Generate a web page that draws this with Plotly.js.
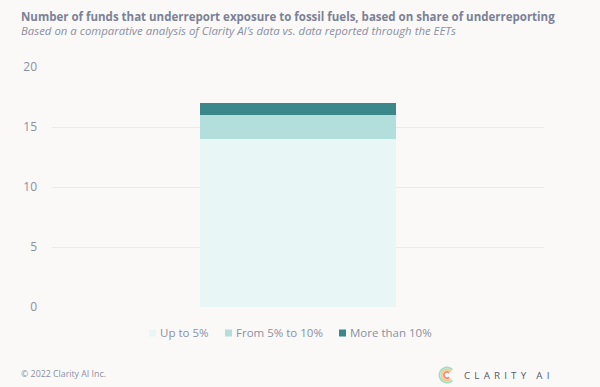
<!DOCTYPE html>
<html>
<head>
<meta charset="utf-8">
<script src="https://cdn.plot.ly/plotly-3.0.1.min.js"></script>
<style>
html,body{margin:0;padding:0;background:#faf9f7;}
#chart{width:600px;height:387px;}
</style>
</head>
<body>
<div id="chart"></div>
<script>
const categories = ["Funds"];
const seriesNames = ["Up to 5%", "From 5% to 10%", "More than 10%"];
const upTo5 = [14];
const from5to10 = [2];
const moreThan10 = [1];
const yTicks = [0, 5, 10, 15, 20];

const colors = ["#e8f6f6", "#b2dfdc", "#3b888a"];
const values = [upTo5, from5to10, moreThan10];

const traces = values.map((v, i) => ({
  type: "bar",
  x: categories,
  y: v,
  name: seriesNames[i],
  marker: {color: colors[i], line: {width: 0}},
  hoverinfo: "skip"
}));

// pixel -> paper helpers
const L = 52, R = 544, T = 67, B = 307;
const px = x => (x - L) / (R - L);
const py = y => (B - y) / (B - T);
function arc(cx, cy, r, a0, a1) {
  const n = 24; let d = "";
  for (let k = 0; k <= n; k++) {
    const a = (a0 + (a1 - a0) * k / n) * Math.PI / 180;
    const X = px(cx + r * Math.cos(a)), Y = py(cy - r * Math.sin(a));
    d += (k === 0 ? "M" : "L") + X.toFixed(4) + "," + Y.toFixed(4);
  }
  return d;
}
const lc = [447, 375];
const logoShapes = [
  {r: 7.5, c: "#9fdcc4"},
  {r: 5.3, c: "#f7c97c"},
  {r: 3.1, c: "#ee8a8a"}
].map(s => ({
  type: "path", xref: "paper", yref: "paper",
  path: arc(lc[0], lc[1], s.r, 45, 315),
  line: {color: s.c, width: 1.8}
}));

// manual legend (positions of the legend items, in pixels)
const legendX = [149, 225, 339];
const legendY = 333;
const legendShapes = seriesNames.map((n, i) => ({
  type: "rect", xref: "paper", yref: "paper",
  x0: px(legendX[i]), x1: px(legendX[i] + 7),
  y0: py(legendY + 3.5), y1: py(legendY - 3.5),
  fillcolor: colors[i], line: {width: 0}
}));
const legendAnn = seriesNames.map((n, i) => ({
  xref: "paper", yref: "paper", x: px(legendX[i] + 9), y: py(legendY - 1),
  xanchor: "left", yanchor: "middle", text: n, showarrow: false,
  font: {size: 11.5, color: "#8a90a3"}
}));

const sp = "\u2009 ";
const logoText = ["C","L","A","R","I","T","Y"].join(sp) + "\u00a0\u00a0\u00a0\u00a0" + "A" + sp + "I";

const layout = {
  width: 600, height: 387,
  paper_bgcolor: "#faf9f7", plot_bgcolor: "#faf9f7",
  margin: {l: 52, r: 56, t: 67, b: 80},
  barmode: "stack",
  bargap: 0.6,
  font: {family: "Open Sans, sans-serif", color: "#8a90a3"},
  xaxis: {showticklabels: false, showgrid: false, zeroline: false, showline: false, ticks: ""},
  yaxis: {
    range: [0, 20], tickvals: yTicks, ticktext: yTicks.map(String),
    gridcolor: "#ebebee", gridwidth: 1, zeroline: false, showline: false,
    tickfont: {size: 12, color: "#8a90a3"}, ticklabelstandoff: 14
  },
  showlegend: false,
  shapes: logoShapes.concat(legendShapes),
  annotations: [
    {xref: "paper", yref: "paper", x: px(19), y: py(16.5), xanchor: "left", yanchor: "middle",
     text: "<b>Number of funds that underreport exposure to fossil fuels, based on share of underreporting</b>",
     showarrow: false, font: {size: 11.5, color: "#7b8196"}},
    {xref: "paper", yref: "paper", x: px(19), y: py(30.5), xanchor: "left", yanchor: "middle",
     text: "<i>Based on a comparative analysis of Clarity AI’s data vs. data reported through the EETs</i>",
     showarrow: false, font: {size: 11.4, color: "#8a90a3"}},
    {xref: "paper", yref: "paper", x: px(19), y: py(374), xanchor: "left", yanchor: "middle",
     text: "© 2022 Clarity AI Inc.", showarrow: false, font: {size: 8.8, color: "#8a90a3"}},
    {xref: "paper", yref: "paper", x: px(462), y: py(375), xanchor: "left", yanchor: "middle",
     text: logoText, showarrow: false, font: {size: 9.8, color: "#555a66"}}
  ].concat(legendAnn)
};

Plotly.newPlot("chart", traces, layout, {staticPlot: true, displayModeBar: false});
</script>
</body>
</html>
